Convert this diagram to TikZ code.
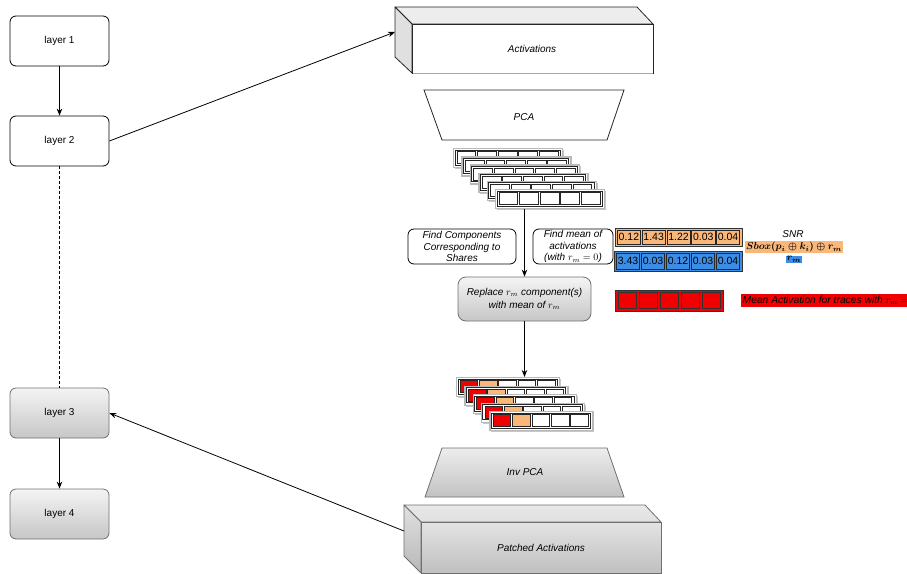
\documentclass[tikz,border=0pt]{standalone}
\usepackage{fontspec}
\setmainfont{Liberation Sans}
\usepackage{amsmath}
\usetikzlibrary{arrows.meta}
\definecolor{orangeC}{HTML}{FAB77A}
\definecolor{blueC}{HTML}{3C8DE6}
\definecolor{redC}{HTML}{F00000}
\definecolor{gradT}{HTML}{F4F4F4}
\definecolor{gradB}{HTML}{C6C6C6}
\definecolor{edgeG}{HTML}{707070}
\tikzset{
  conn/.style={line width=0.8pt, draw=black},
  arr/.style={conn, -{Stealth[length=7pt,width=5.5pt]}},
  layerw/.style={draw=black, line width=0.8pt, rounded corners=6pt, fill=white,
    minimum width=99pt, minimum height=50pt, inner sep=0pt},
  layerg/.style={layerw, draw=edgeG, top color=gradT, bottom color=gradB},
  notebox/.style={draw=black, line width=0.8pt, rounded corners=6pt, fill=white,
    inner sep=0pt, align=center, font=\fontsize{10}{11.6}\selectfont\itshape},
  lbl/.style={font=\fontsize{10}{12}\selectfont\itshape, inner sep=0pt},
  numcell/.style={draw=black!85, line width=0.6pt, inner sep=0pt,
    font=\fontsize{10.5}{12}\selectfont},
  hilite/.style={inner sep=1pt, font=\fontsize{10}{11}\selectfont},
}
% component row: name, x, y, w, h, fills
\newcommand{\comprow}[6]{%
  \fill[black!22] (#2+2,#3+2) rectangle ++(#4,#5);
  \node[draw=gray!55, line width=1.3pt, fill=white, minimum width=#4, minimum height=#5,
        anchor=north west, inner sep=0pt] (#1) at (#2,#3) {};
  \draw[line width=0.6pt, black!85] (#2+1.8,#3+1.8) rectangle (#2+#4-1.8,#3+#5-1.8);
  \pgfmathsetmacro\cwA{(#4-6)/5}
  \foreach \cc [count=\kk from 0] in {#6} {
    \draw[fill=\cc, draw=black!85, line width=0.6pt]
      (#2+3+\kk*\cwA+0.9, #3+3.6) rectangle (#2+3+\kk*\cwA+\cwA-0.9, #3+#5-3.6);
  }
}
% number row: prefix, x, y, w, h, colour, numbers
\newcommand{\numrow}[7]{%
  \node[draw=black!80, line width=0.8pt, fill=#6, minimum width=#4, minimum height=#5,
        anchor=north west, inner sep=0pt] (#1) at (#2,#3) {};
  \pgfmathsetmacro\cwB{(#4-3)/5}
  \foreach \vv [count=\kk from 0] in {#7} {
    \node[numcell, fill=#6, minimum width=\cwB-1.6, minimum height=#5-3.6]
      (#1-\kk) at (#2+1.5+\kk*\cwB+\cwB/2, #3+#5/2) {\vv};
  }
}
\begin{document}
\begin{tikzpicture}[x=1pt,y=-1pt]
\useasboundingbox (0,0) rectangle (907,573);

% ---------------- layers ----------------
\node[layerw] (l1) at (59.5,41) {layer 1};
\node[layerw] (l2) at (59.5,141) {layer 2};
\node[layerg] (l3) at (59.5,413) {layer 3};
\node[layerg] (l4) at (59.5,514) {layer 4};
\draw[arr] (l1) -- (l2);
\draw[conn, dash pattern=on 2.5pt off 2.5pt] (l2) -- (l3);
\draw[arr] (l3) -- (l4);

% ---------------- Activations (3D box) ----------------
\filldraw[fill=black!7, draw=black!85, line width=0.8pt, line join=round]
  (395,7) -- (637,7) -- (653,24) -- (412,24) -- cycle;
\filldraw[fill=black!12, draw=black!85, line width=0.8pt, line join=round]
  (395,7) -- (412,24) -- (412,73) -- (395,57) -- cycle;
\node[draw=black!85, line width=0.8pt, fill=white, minimum width=241, minimum height=49,
      anchor=north west, inner sep=0pt] (act) at (412,24) {};
\draw[gray!70, line width=1pt] (412.5,73.6) -- (653,73.6);
\node[lbl] (acttxt) at (532,48.5) {Activations};
\coordinate (actL) at (395,32);
\draw[arr] (l2.east) -- (actL);

% ---------------- PCA ----------------
\filldraw[fill=white, draw=black!85, line width=0.8pt]
  (424,90) -- (624,90) -- (607,140) -- (442,140) -- cycle;
\node[lbl] (pca) at (524,117) {PCA};

% ---------------- component stack 1 ----------------
\foreach \i in {0,...,5} {
  \comprow{r\i}{453+8.4*\i}{148+8.2*\i}{109}{19}{white,white,white,white,white}
}

% ---------------- notes and replace box ----------------
\node[notebox, minimum width=108, minimum height=35] (findc) at (462,246.5)
  {Find Components\\Corresponding to\\Shares};
\node[notebox, minimum width=80, minimum height=35] (findm) at (573,246.5)
  {Find mean of\\activations\\(with $r_m=0$)};
\node[draw=edgeG, line width=0.8pt, rounded corners=8pt, top color=gradT, bottom color=gradB,
      minimum width=133, minimum height=44, inner sep=0pt, align=center,
      font=\fontsize{10}{13}\selectfont\itshape] (rep) at (524.5,299)
  {Replace $r_m$ component(s)\\with mean of $r_m$};
\draw[arr] (rep.north |- r5.south) -- (rep.north);

% ---------------- SNR rows ----------------
\numrow{orow}{615}{228}{127}{18}{orangeC}{0.12,1.43,1.22,0.03,0.04}
\numrow{brow}{614}{251}{128}{20}{blueC}{3.43,0.03,0.12,0.03,0.04}
\node[lbl] (snr) at (793,234.5) {SNR};
\node[hilite, fill=orangeC] (sbox) at (794,247) {$\boldsymbol{Sbox(p_i\oplus k_i)\oplus r_m}$};
\node[hilite, fill=blueC] (rmlab) at (794,259.5) {$\boldsymbol{r_m}$};

% ---------------- red row ----------------
\node[draw=black!80, line width=0.8pt, fill=redC, minimum width=108, minimum height=21,
      anchor=north west, inner sep=0pt] (redrow) at (615,290) {};
\foreach \kk in {0,...,4} {
  \node[draw=black!80, line width=0.6pt, fill=redC, minimum width=18.2, minimum height=16.5,
        inner sep=0pt] (red-\kk) at (615+1.5+\kk*21+10.5,300.5) {};
}
\node[fill=redC, anchor=west, inner sep=1.5pt, minimum height=13,
      font=\fontsize{10.3}{12}\selectfont\itshape] (meanlab) at (741,300.5)
  {Mean Activation for traces with $r_m =$\hspace{20pt}};

% ---------------- component stack 2 ----------------
\foreach \i in {0,...,4} {
  \comprow{q\i}{456+8.3*\i}{377+8.5*\i}{103}{19}{redC,orangeC,white,white,white}
}
\draw[arr] (rep.south) -- (rep.south |- q0.north);

% ---------------- Inv PCA ----------------
\shade[top color=black!7, bottom color=black!24]
  (442,448) -- (607,448) -- (624,497) -- (425,497) -- cycle;
\draw[draw=edgeG, line width=0.8pt] (442,448) -- (607,448) -- (624,497) -- (425,497) -- cycle;
\node[lbl] (invpca) at (525,472) {Inv PCA};

% ---------------- Patched Activations (3D box) ----------------
\shade[top color=black!9, bottom color=black!12]
  (404,505) -- (645,505) -- (661,522) -- (421,522) -- cycle;
\draw[draw=edgeG, line width=0.8pt, line join=round]
  (404,505) -- (645,505) -- (661,522) -- (421,522) -- cycle;
\shade[top color=black!12, bottom color=black!28]
  (404,505) -- (421,522) -- (421,573) -- (404,556) -- cycle;
\draw[draw=edgeG, line width=0.8pt, line join=round]
  (404,505) -- (421,522) -- (421,573) -- (404,556) -- cycle;
\node[draw=edgeG, line width=0.8pt, top color=black!11, bottom color=black!25,
      minimum width=240, minimum height=51, anchor=north west, inner sep=0pt] (patch) at (421,522) {};
\node[lbl] (patchtxt) at (541,547.5) {Patched Activations};
\coordinate (patL) at (404,531);
\draw[arr] (patL) -- (l3.east);

\end{tikzpicture}
\end{document}
